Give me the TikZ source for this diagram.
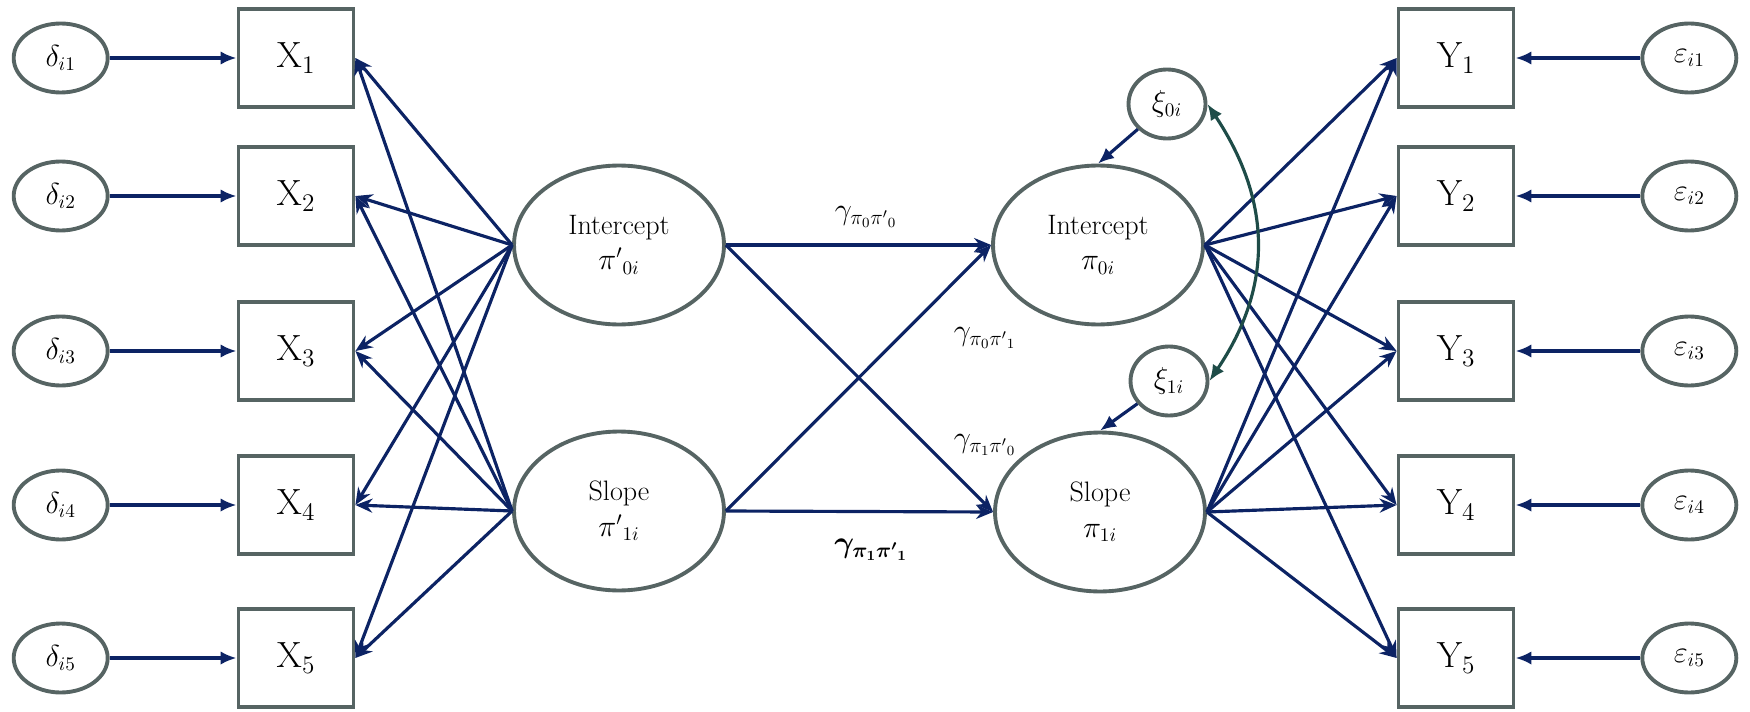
\documentclass[tikz,border=0pt]{standalone}
\usepackage{amsmath,amssymb}
\usepackage{bm}
\usepackage{tikz}
\usetikzlibrary{arrows.meta,positioning,shapes.geometric}

\definecolor{navy}{RGB}{12,35,100}
\definecolor{rim}{RGB}{86,100,99}
\definecolor{covcol}{RGB}{30,76,72}

\begin{document}
\begin{tikzpicture}[x=0.02cm,y=0.02cm,>={Stealth[length=0.34cm,width=0.28cm]},
	obs/.style={rectangle,draw=rim,line width=2.2pt,minimum width=2.3cm,minimum height=1.96cm,inner sep=0pt,font=\fontsize{20}{24}\selectfont},
	err/.style={ellipse,draw=rim,line width=2.2pt,minimum width=1.88cm,minimum height=1.38cm,inner sep=0pt,font=\fontsize{16}{19}\selectfont},
	lat/.style={ellipse,draw=rim,line width=2.2pt,minimum width=4.2cm,minimum height=3.18cm,inner sep=0pt,align=center,font=\fontsize{16}{20}\selectfont},
	dist/.style={ellipse,draw=rim,line width=2.2pt,minimum width=1.54cm,minimum height=1.38cm,inner sep=0pt,font=\fontsize{16}{19}\selectfont},
	lnk/.style={navy,line width=1.8pt},
	coef/.style={font=\fontsize{17}{20}\selectfont}]
	\useasboundingbox (0,0) rectangle (1750,711);

	% observed x side
	\node[obs] (x1) at (296,653) {$\mathrm{X}_1$};
	\node[obs] (x2) at (296,515) {$\mathrm{X}_2$};
	\node[obs] (x3) at (296,360) {$\mathrm{X}_3$};
	\node[obs] (x4) at (296,206) {$\mathrm{X}_4$};
	\node[obs] (x5) at (296,53) {$\mathrm{X}_5$};
	\node[err] [left=2.54cm of x1] (d1) {$\delta_{i1}$};
	\node[err] [left=2.54cm of x2] (d2) {$\delta_{i2}$};
	\node[err] [left=2.54cm of x3] (d3) {$\delta_{i3}$};
	\node[err] [left=2.54cm of x4] (d4) {$\delta_{i4}$};
	\node[err] [left=2.54cm of x5] (d5) {$\delta_{i5}$};

	% observed y side
	\node[obs] (y1) at (1456,653) {$\mathrm{Y}_1$};
	\node[obs] (y2) at (1456,515) {$\mathrm{Y}_2$};
	\node[obs] (y3) at (1456,360) {$\mathrm{Y}_3$};
	\node[obs] (y4) at (1456,206) {$\mathrm{Y}_4$};
	\node[obs] (y5) at (1456,53) {$\mathrm{Y}_5$};
	\node[err] [right=2.5cm of y1] (e1) {$\varepsilon_{i1}$};
	\node[err] [right=2.5cm of y2] (e2) {$\varepsilon_{i2}$};
	\node[err] [right=2.5cm of y3] (e3) {$\varepsilon_{i3}$};
	\node[err] [right=2.5cm of y4] (e4) {$\varepsilon_{i4}$};
	\node[err] [right=2.5cm of y5] (e5) {$\varepsilon_{i5}$};

	% latent growth factors
	\node[lat] (lint) at (619,466) {Intercept\\${\pi'}_{0i}$};
	\node[lat] (lslp) at (619,200) {Slope\\${\pi'}_{1i}$};
	\node[lat] (rint) at (1098,466) {Intercept\\$\pi_{0i}$};
	\node[lat] (rslp) at (1100,199) {Slope\\$\pi_{1i}$};
	\node[dist] (xi0) at (1167,607) {$\xi_{0i}$};
	\node[dist] (xi1) at (1169,330) {$\xi_{1i}$};

	% path coefficients
	\node[coef] (g00) at (866,494) {$\gamma_{\pi_0{\pi'}_0}$};
	\node[coef] (g01) at (985,373) {$\gamma_{\pi_0{\pi'}_1}$};
	\node[coef] (g10) at (985,266) {$\gamma_{\pi_1{\pi'}_0}$};
	\node[coef] (g11) at (871,161) {$\bm{\gamma_{\pi_1{\pi'}_1}}$};

	\path[lnk,-{Latex[length=0.32cm,width=0.27cm]}]
		(d1) edge (x1) (d2) edge (x2) (d3) edge (x3) (d4) edge (x4) (d5) edge (x5)
		(e1) edge (y1) (e2) edge (y2) (e3) edge (y3) (e4) edge (y4) (e5) edge (y5)
		(xi0) edge (rint.north)
		(xi1) edge (rslp.north);
	\path[lnk,->]
		(lint.west) edge (x1.east) edge (x2.east) edge (x3.east) edge (x4.east) edge (x5.east)
		(lslp.west) edge (x1.east) edge (x2.east) edge (x3.east) edge (x4.east) edge (x5.east)
		(rint.east) edge (y1.west) edge (y2.west) edge (y3.west) edge (y4.west) edge (y5.west)
		(rslp.east) edge (y1.west) edge (y2.west) edge (y3.west) edge (y4.west) edge (y5.west)
		(lint.east) edge (rint.west) edge (rslp.west)
		(lslp.east) edge (rint.west) edge (rslp.west);
	\draw[covcol,line width=1.8pt,{Latex[length=0.32cm,width=0.27cm]}-{Latex[length=0.32cm,width=0.27cm]}]
		(xi0.east) .. controls (1271,511) and (1274,426) .. (xi1.east);
\end{tikzpicture}
\end{document}
